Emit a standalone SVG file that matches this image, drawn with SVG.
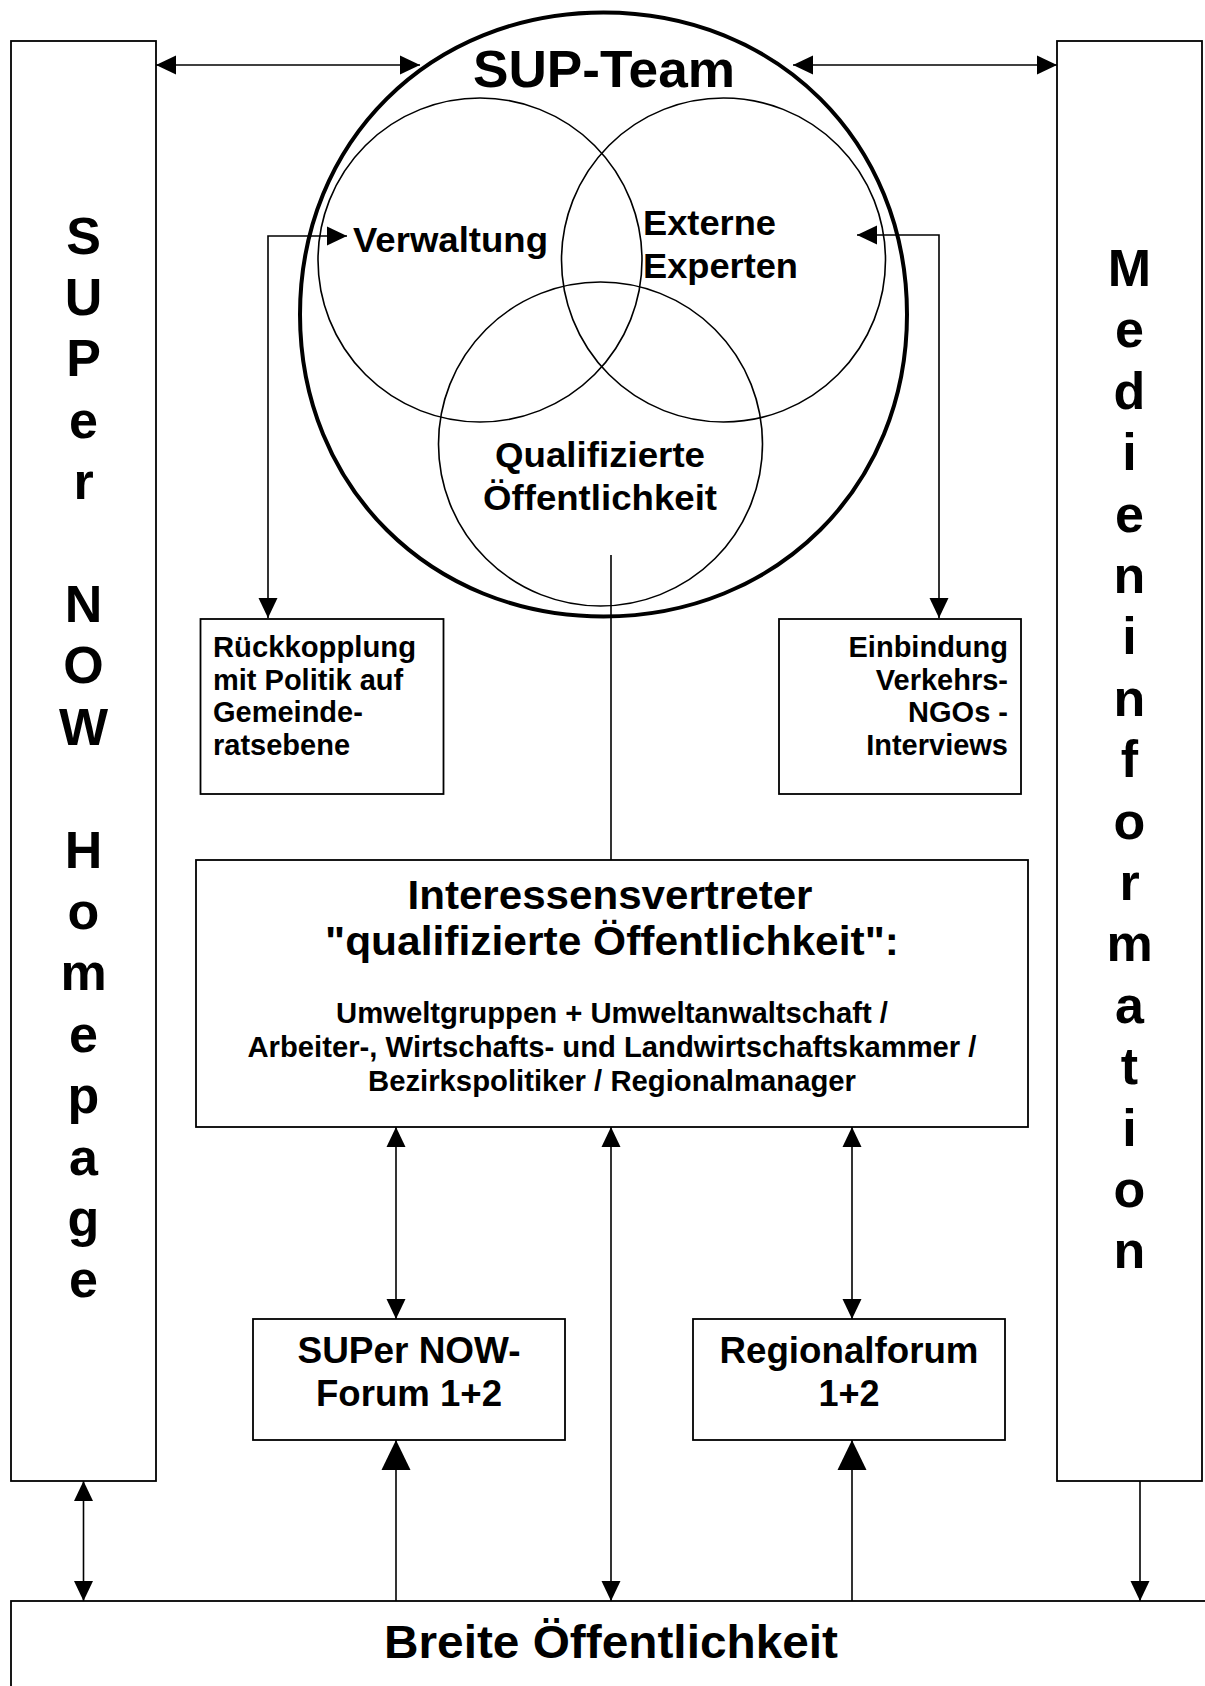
<svg xmlns="http://www.w3.org/2000/svg" width="1205" height="1686" viewBox="0 0 1205 1686">
<defs>
<style>
text{font-family:"Liberation Sans",Arial,sans-serif;font-weight:bold;fill:#000}
.box{fill:#fff;stroke:#000;stroke-width:1.8}
.ring{fill:none;stroke:#000;stroke-width:1.6}
.outer{fill:none;stroke:#000;stroke-width:4}
.con{fill:none;stroke:#000;stroke-width:1.6}
.col{font-size:52px;text-anchor:middle}
.mid{text-anchor:middle}
</style>
<marker id="a" viewBox="0 0 20 20" markerWidth="20" markerHeight="20" refX="20" refY="10" orient="auto-start-reverse" markerUnits="userSpaceOnUse"><path d="M0,0.5 L20,10 L0,19.5 Z" fill="#000"/></marker>
<marker id="b" viewBox="0 0 30 30" markerWidth="30" markerHeight="30" refX="30" refY="15" orient="auto-start-reverse" markerUnits="userSpaceOnUse"><path d="M0,0.5 L30,15 L0,29.5 Z" fill="#000"/></marker>
</defs>
<rect width="1205" height="1686" fill="#fff"/>

<g id="homepage">
<rect class="box" x="11" y="41" width="145" height="1440"/>
<text class="col" x="83.5" y="253.5">S</text>
<text class="col" x="83.5" y="314.9">U</text>
<text class="col" x="83.5" y="376.3">P</text>
<text class="col" x="83.5" y="437.7">e</text>
<text class="col" x="83.5" y="499.1">r</text>
<text class="col" x="83.5" y="621.9">N</text>
<text class="col" x="83.5" y="683.3">O</text>
<text class="col" x="83.5" y="744.7">W</text>
<text class="col" x="83.5" y="867.5">H</text>
<text class="col" x="83.5" y="928.9">o</text>
<text class="col" x="83.5" y="990.3">m</text>
<text class="col" x="83.5" y="1051.7">e</text>
<text class="col" x="83.5" y="1113.1">p</text>
<text class="col" x="83.5" y="1174.5">a</text>
<text class="col" x="83.5" y="1235.9">g</text>
<text class="col" x="83.5" y="1297.3">e</text>
</g>

<g id="medieninformation">
<rect class="box" x="1057" y="41" width="145" height="1440"/>
<text class="col" x="1129.5" y="286">M</text>
<text class="col" x="1129.5" y="347.4">e</text>
<text class="col" x="1129.5" y="408.8">d</text>
<text class="col" x="1129.5" y="470.2">i</text>
<text class="col" x="1129.5" y="531.6">e</text>
<text class="col" x="1129.5" y="593">n</text>
<text class="col" x="1129.5" y="654.4">i</text>
<text class="col" x="1129.5" y="715.8">n</text>
<text class="col" x="1129.5" y="777.2">f</text>
<text class="col" x="1129.5" y="838.6">o</text>
<text class="col" x="1129.5" y="900">r</text>
<text class="col" x="1129.5" y="961.4">m</text>
<text class="col" x="1129.5" y="1022.8">a</text>
<text class="col" x="1129.5" y="1084.2">t</text>
<text class="col" x="1129.5" y="1145.6">i</text>
<text class="col" x="1129.5" y="1207">o</text>
<text class="col" x="1129.5" y="1268.4">n</text>
</g>

<g id="sup-team">
<path class="outer" d="M603.5,12.5 C776.5,12.5 907,141.4 907,314.5 C907,486.6 776.5,616.5 603.5,616.5 C430.5,616.5 300,486.6 300,314.5 C300,141.4 430.5,12.5 603.5,12.5 Z"/>
<text x="604" y="87" font-size="52" class="mid" textLength="262" lengthAdjust="spacingAndGlyphs">SUP-Team</text>
</g>

<g id="verwaltung">
<circle class="ring" cx="480" cy="260" r="162"/>
<text x="353" y="252" font-size="35" textLength="195" lengthAdjust="spacingAndGlyphs">Verwaltung</text>
</g>

<g id="externe-experten">
<circle class="ring" cx="723.5" cy="260" r="162"/>
<text x="643" y="235" font-size="35" textLength="133" lengthAdjust="spacingAndGlyphs">Externe</text>
<text x="643" y="278" font-size="35" textLength="155" lengthAdjust="spacingAndGlyphs">Experten</text>
</g>

<g id="qualifizierte-oeffentlichkeit">
<circle class="ring" cx="600.5" cy="444" r="162"/>
<text x="600" y="467" font-size="35" class="mid" textLength="210" lengthAdjust="spacingAndGlyphs">Qualifizierte</text>
<text x="600" y="510" font-size="35" class="mid" textLength="234" lengthAdjust="spacingAndGlyphs">Öffentlichkeit</text>
</g>

<g id="rueckkopplung">
<rect class="box" x="200.5" y="619" width="243" height="175"/>
<text x="213" y="657" font-size="29" textLength="203" lengthAdjust="spacingAndGlyphs">Rückkopplung</text>
<text x="213" y="690" font-size="29">mit Politik auf</text>
<text x="213" y="722" font-size="29">Gemeinde-</text>
<text x="213" y="755" font-size="29">ratsebene</text>
</g>

<g id="einbindung">
<rect class="box" x="779" y="619" width="242" height="175"/>
<text x="1008" y="657" font-size="29" text-anchor="end">Einbindung</text>
<text x="1008" y="690" font-size="29" text-anchor="end">Verkehrs-</text>
<text x="1008" y="722" font-size="29" text-anchor="end">NGOs -</text>
<text x="1008" y="755" font-size="29" text-anchor="end">Interviews</text>
</g>

<g id="interessensvertreter">
<rect class="box" x="196" y="860" width="832" height="267"/>
<text x="610" y="909" font-size="41" class="mid" textLength="405" lengthAdjust="spacingAndGlyphs">Interessensvertreter</text>
<text x="612" y="955" font-size="41" class="mid" textLength="574" lengthAdjust="spacingAndGlyphs">"qualifizierte Öffentlichkeit":</text>
<text x="612" y="1023" font-size="29" class="mid" textLength="552" lengthAdjust="spacingAndGlyphs">Umweltgruppen + Umweltanwaltschaft /</text>
<text x="612" y="1057" font-size="29" class="mid" textLength="729" lengthAdjust="spacingAndGlyphs">Arbeiter-, Wirtschafts- und Landwirtschaftskammer /</text>
<text x="612" y="1091" font-size="29" class="mid" textLength="488" lengthAdjust="spacingAndGlyphs">Bezirkspolitiker / Regionalmanager</text>
</g>

<g id="super-now-forum">
<rect class="box" x="253" y="1319" width="312" height="121"/>
<text x="409" y="1363" font-size="36" class="mid" textLength="223" lengthAdjust="spacingAndGlyphs">SUPer NOW-</text>
<text x="409" y="1406" font-size="36" class="mid" textLength="186" lengthAdjust="spacingAndGlyphs">Forum 1+2</text>
</g>

<g id="regionalforum">
<rect class="box" x="693" y="1319" width="312" height="121"/>
<text x="849" y="1363" font-size="36" class="mid" textLength="259" lengthAdjust="spacingAndGlyphs">Regionalforum</text>
<text x="849" y="1406" font-size="36" class="mid">1+2</text>
</g>

<g id="breite-oeffentlichkeit">
<rect class="box" x="11" y="1601" width="1200" height="100"/>
<text x="611" y="1658" font-size="47" class="mid" textLength="454" lengthAdjust="spacingAndGlyphs">Breite Öffentlichkeit</text>
</g>

<g id="connectors">
<line class="con" x1="156" y1="65" x2="420" y2="65" marker-start="url(#a)" marker-end="url(#a)"/>
<line class="con" x1="793" y1="65" x2="1057" y2="65" marker-start="url(#a)" marker-end="url(#a)"/>
<path class="con" d="M268,618 V236 H347" marker-start="url(#a)" marker-end="url(#a)"/>
<path class="con" d="M857,235 H939 V618" marker-start="url(#a)" marker-end="url(#a)"/>
<line class="con" x1="611" y1="555" x2="611" y2="860"/>
<line class="con" x1="396" y1="1127" x2="396" y2="1319" marker-start="url(#a)" marker-end="url(#a)"/>
<line class="con" x1="852" y1="1127" x2="852" y2="1319" marker-start="url(#a)" marker-end="url(#a)"/>
<line class="con" x1="611" y1="1127" x2="611" y2="1601" marker-start="url(#a)" marker-end="url(#a)"/>
<line class="con" x1="396" y1="1601" x2="396" y2="1440" marker-end="url(#b)"/>
<line class="con" x1="852" y1="1601" x2="852" y2="1440" marker-end="url(#b)"/>
<line class="con" x1="83.5" y1="1481" x2="83.5" y2="1601" marker-start="url(#a)" marker-end="url(#a)"/>
<line class="con" x1="1140" y1="1481" x2="1140" y2="1601" marker-end="url(#a)"/>
</g>
</svg>
